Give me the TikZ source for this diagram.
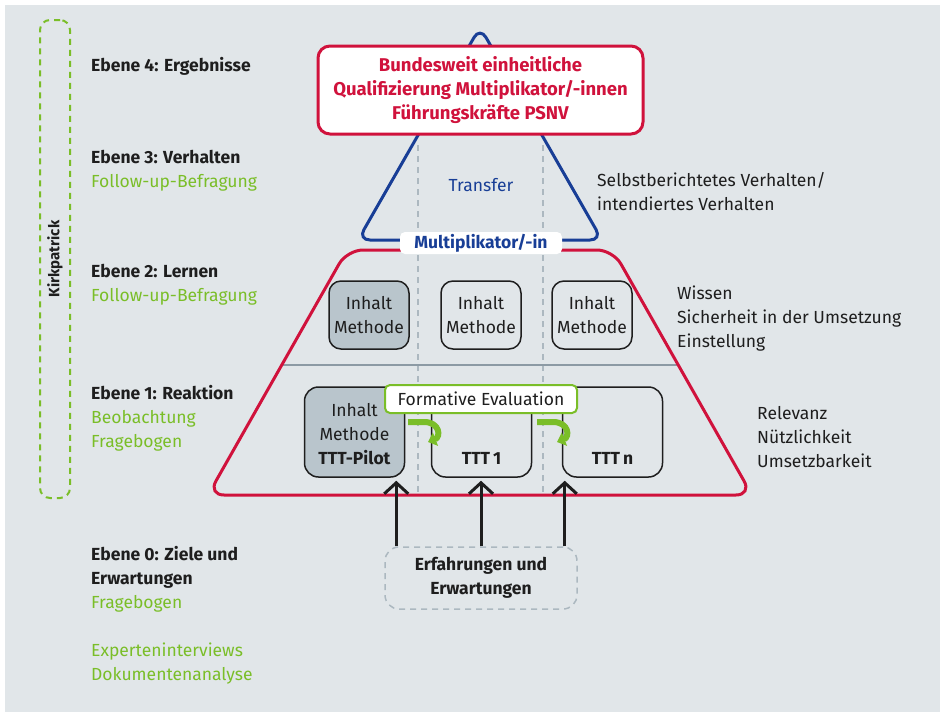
\documentclass[tikz,border=0pt]{standalone}
\usepackage{fontspec}
\setmainfont{Fira Sans}
\usetikzlibrary{positioning,arrows.meta}
\definecolor{evalred}{RGB}{208,18,60}
\definecolor{evalblue}{RGB}{24,62,150}
\definecolor{evalgreen}{RGB}{122,190,40}
\definecolor{evalpanel}{RGB}{225,230,233}
\definecolor{evaltext}{RGB}{30,30,30}
\definecolor{evalfill}{RGB}{185,197,204}
\definecolor{evalline}{RGB}{140,154,164}
\definecolor{evaldash}{RGB}{172,184,192}
\tikzset{
    eval font/.style={font=\fontsize{17.5}{24}\selectfont},
    eval bold/.style={font=\fontsize{17.5}{24}\selectfont\bfseries},
    eval label/.style={eval font, text=evaltext, inner sep=0pt, align=left, anchor=base west},
    eval box/.style={
        rectangle,
        minimum width=80pt,
        minimum height=68pt,
        rounded corners=12pt,
        draw=evaltext,
        line width=1.5pt,
        fill=evalpanel,
        inner sep=0pt,
        align=center,
        eval font,
        text=evaltext
    },
    eval course/.style={eval box, minimum width=100pt, minimum height=90pt, rounded corners=14pt},
    eval tag/.style={rectangle, rounded corners=5pt, fill=white, inner sep=0pt, eval font},
    eval arrow/.style={line width=3pt, evaltext, shorten >=3pt, -{Straight Barb[length=11pt,width=24pt]}},
    eval hook/.style={line width=6pt, evalgreen, -{Triangle[length=8pt,width=14pt]}},
    eval divider/.style={evaldash, line width=1.5pt, dash pattern=on 6pt off 5pt}
}

\begin{document}
\begin{tikzpicture}[x=1pt, y=-1pt]

\useasboundingbox (0,0) rectangle (940,712);
\fill[white] (0,0) rectangle (940,712);
\fill[evalpanel] (5,5) rectangle (940,712);

% Kirkpatrick frame on the left
\node[draw=evalgreen, line width=2pt, dash pattern=on 6pt off 5pt, rounded corners=10pt,
      minimum width=30pt, minimum height=478pt] (kirk) at (55,259) {};
\node[rotate=90, font=\fontsize{15}{18}\selectfont\bfseries, text=evaltext] (kirklabel) at (kirk) {Kirkpatrick};

% Levels and methods (placed at the baseline of the last line)
\node[eval label] (lvl4) at (91,71) {\textbf{Ebene 4: Ergebnisse}};
\node[eval label] (lvl3) at (91,187) {\textbf{Ebene 3: Verhalten}\\\textcolor{evalgreen}{Follow-up-Befragung}};
\node[eval label] (lvl2) at (91,301) {\textbf{Ebene 2: Lernen}\\\textcolor{evalgreen}{Follow-up-Befragung}};
\node[eval label] (lvl1) at (91,447) {\textbf{Ebene 1: Reaktion}\\\textcolor{evalgreen}{Beobachtung}\\\textcolor{evalgreen}{Fragebogen}};
\node[eval label] (lvl0) at (91,608) {\textbf{Ebene 0: Ziele und}\\\textbf{Erwartungen}\\\textcolor{evalgreen}{Fragebogen}};
\node[eval label, text=evalgreen] (lvl0b) at (91,680) {Experteninterviews\\Dokumentenanalyse};

% Dashed dividers between the courses
\draw[eval divider] (418,145) -- (418,494);
\draw[eval divider] (543,145) -- (543,494);

% Transfer triangle and goal
\draw[evalblue, line width=3pt, rounded corners=12pt] (480,240) -- (602,240) -- (480,27) -- (358,240) -- cycle;
\node[eval font, text=evalblue] (transfer) at (481,185) {Transfer};
\node[draw=evalred, fill=white, line width=3pt, rounded corners=12pt, minimum width=325pt, minimum height=88pt,
      align=center, font=\fontsize{18.5}{24}\selectfont\bfseries, text=evalred] (goal) at (480.5,90) {Bundesweit einheitliche\\Qualifizierung Multiplikator/-innen\\Führungskräfte PSNV};

% Training trapezoid
\draw[evalline, line width=2pt] (282,365) -- (678,365);
\draw[evalred, line width=3pt, rounded corners=16pt] (480,250) -- (613,250) -- (752,495) -- (208,495) -- (347,250) -- cycle;
\node[eval tag, minimum width=162pt, minimum height=22pt, eval bold, text=evalblue] (multi) at (481,243) {Multiplikator/-in};

\node[eval box, fill=evalfill] (learn1) at (369,315) {Inhalt\\Methode};
\node[eval box] (learn2) at (481,315) {Inhalt\\Methode};
\node[eval box] (learn3) at (592,315) {Inhalt\\Methode};

\node[eval course, fill=evalfill] (pilot) at (354.5,432) {};
\node[eval course] (ttt1) at (481.5,432) {};
\node[eval course] (tttn) at (612.5,432) {};
\node[eval font, text=evaltext, align=center, inner sep=0pt, above=13pt of pilot.south] (pilotlabel) {Inhalt\\Methode\\\textbf{TTT-Pilot}};
\node[eval bold, text=evaltext, inner sep=0pt, above=13pt of ttt1.south] (ttt1label) {TTT\,1};
\node[eval bold, text=evaltext, inner sep=0pt, above=13pt of tttn.south] (tttnlabel) {TTT\,n};

\node[eval tag, draw=evalgreen, line width=2pt, minimum width=192pt, minimum height=28pt, text=evaltext] (formative) at (481,399) {Formative Evaluation};
\draw[eval hook] (408,422) -- (424,422) .. controls (440,422) and (441,437) .. (428,442);
\draw[eval hook] (537,422) -- (553,422) .. controls (569,422) and (570,437) .. (557,442);

% Experiences feeding the courses
\node[draw=evaldash, line width=1.5pt, dash pattern=on 6pt off 5pt, rounded corners=14pt, minimum width=192pt, minimum height=62pt,
      align=center, eval bold, text=evaltext] (expect) at (481,578) {Erfahrungen und\\Erwartungen};
\draw[eval arrow] ([xshift=12pt]expect.north west) -- ([xshift=12pt]expect.north west |- pilot.south);
\draw[eval arrow] (expect.north) -- (expect.north |- ttt1.south);
\draw[eval arrow] ([xshift=-13pt]expect.north east) -- ([xshift=-13pt]expect.north east |- tttn.south);

% Outcomes on the right
\node[eval label] (behav) at (597,210) {Selbstberichtetes Verhalten/\\intendiertes Verhalten};
\node[eval label] (know) at (677,347) {Wissen\\Sicherheit in der Umsetzung\\Einstellung};
\node[eval label] (react) at (757,467) {Relevanz\\Nützlichkeit\\Umsetzbarkeit};

\end{tikzpicture}
\end{document}
